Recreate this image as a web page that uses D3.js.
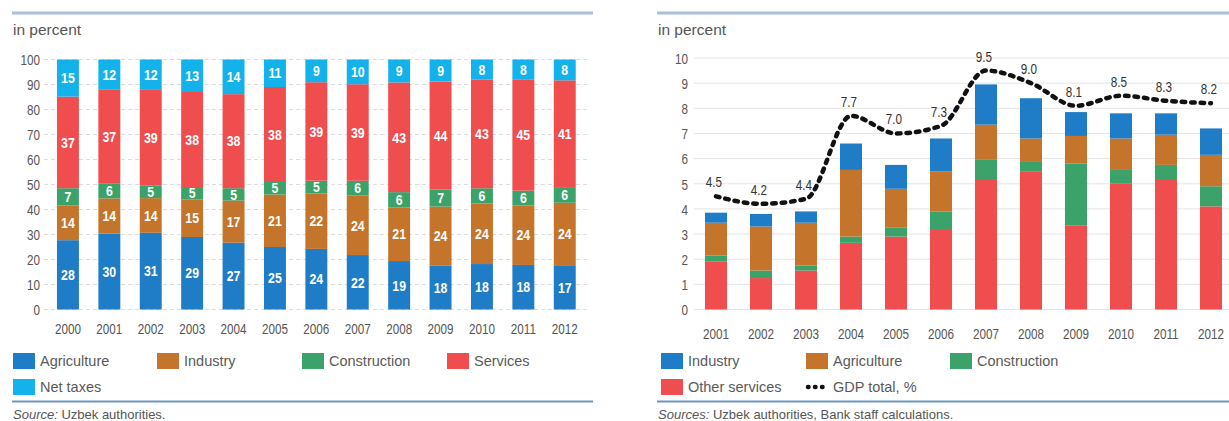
<!DOCTYPE html>
<html><head><meta charset="utf-8">
<script src="https://cdn.jsdelivr.net/npm/d3@7"></script>
<style>
body{margin:0;background:#fff;}
svg{display:block;}
text{font-family:"Liberation Sans",Arial,sans-serif;}
</style></head>
<body>
<svg id="c" width="1229" height="421"></svg>
<script>
// ---------- Left chart data (share of GDP, %) ----------
const yearsL = ["2000","2001","2002","2003","2004","2005","2006","2007","2008","2009","2010","2011","2012"];
const agricultureL = [28,30,31,29,27,25,24,22,19,18,18,18,17];
const industryL    = [14,14,14,15,17,21,22,24,21,24,24,24,24];
const constructionL= [7,6,5,5,5,5,5,6,6,7,6,6,6];
const servicesL    = [37,37,39,38,38,38,39,39,43,44,43,45,41];
const netTaxesL    = [15,12,12,13,14,11,9,10,9,9,8,8,8];
const yTicksL = [0,10,20,30,40,50,60,70,80,90,100];

// ---------- Right chart data (contributions to growth, pp) ----------
const yearsR = ["2001","2002","2003","2004","2005","2006","2007","2008","2009","2010","2011","2012"];
const otherServicesR = [1.9,1.25,1.55,2.65,2.9,3.2,5.15,5.5,3.35,5.0,5.15,4.1];
const constructionR  = [0.25,0.3,0.2,0.25,0.35,0.7,0.8,0.4,2.45,0.55,0.6,0.8];
const agricultureR   = [1.3,1.75,1.7,2.65,1.55,1.6,1.4,0.9,1.1,1.25,1.2,1.25];
const industryR      = [0.4,0.5,0.45,1.05,0.95,1.3,1.6,1.6,0.95,1.0,0.85,1.05];
const gdpTotalR      = [4.5,4.2,4.4,7.7,7.0,7.3,9.5,9.0,8.1,8.5,8.3,8.2];
const yTicksR = [0,1,2,3,4,5,6,7,8,9,10];

const C = {blue:"#1f7cc7", brown:"#c4742b", green:"#3ba36a", red:"#f04d4f", cyan:"#14b2ea"};
const SX = 0.78; // condensed look of the original numerals
const svg = d3.select("#c");

function frame(x0, x1, srcText, srcItalic) {
  svg.append("line").attr("x1",x0).attr("x2",x1).attr("y1",13).attr("y2",13)
    .attr("stroke","#a9c0d8").attr("stroke-width",3);
  svg.append("text").attr("x",x0+1).attr("y",35).attr("font-size",15.5).attr("fill","#555").text("in percent");
  svg.append("line").attr("x1",x0).attr("x2",x1).attr("y1",401.5).attr("y2",401.5)
    .attr("stroke","#6e96bf").attr("stroke-width",2);
  const t = svg.append("text").attr("x",x0+1).attr("y",419).attr("font-size",13).attr("fill","#555");
  t.append("tspan").attr("font-style","italic").text(srcItalic);
  t.append("tspan").text(srcText);
}
function legendItem(x, y, color, label) {
  svg.append("rect").attr("x",x).attr("y",y).attr("width",22).attr("height",16).attr("fill",color);
  svg.append("text").attr("x",x+27).attr("y",y+13).attr("font-size",14.5).attr("fill","#5a5a5a").text(label);
}
function condense(sel) {
  sel.attr("transform", `scale(${SX},1)`);
}

// ================= LEFT =================
{
  frame(12, 593, " Uzbek authorities.", "Source:");
  const x = d3.scaleBand().domain(yearsL).range([46, 586.7]).paddingInner(0.47).paddingOuter(0.265);
  const y = d3.scaleLinear().domain([0,100]).range([309.5, 59.5]);
  const g = svg.append("g");
  g.selectAll(".grid").data(yTicksL).join("line")
    .attr("x1",44).attr("x2",590).attr("y1",d=>y(d)).attr("y2",d=>y(d))
    .attr("stroke","#dcdcdc").attr("stroke-width",1).attr("stroke-dasharray","4 3");
  const yAxis = d3.axisLeft(y).tickValues(yTicksL).tickSize(0).tickPadding(0);
  g.append("g").attr("transform","translate(40,0)").call(yAxis)
    .call(a=>a.select(".domain").remove())
    .selectAll("text").attr("font-size",15).attr("fill","#555").attr("dy","0.35em").call(condense);
  const xAxis = d3.axisBottom(x).tickSize(0).tickPadding(0);
  g.append("g").attr("transform","translate(0,329)").call(xAxis)
    .call(a=>a.select(".domain").remove())
    .selectAll("text").attr("font-size",15).attr("fill","#555").attr("dy","0.35em").call(condense);

  const keys = ["agri","ind","cons","serv","tax"];
  const cols = {agri:C.blue, ind:C.brown, cons:C.green, serv:C.red, tax:C.cyan};
  const rows = yearsL.map((yr,i)=>({year:yr, agri:agricultureL[i], ind:industryL[i], cons:constructionL[i], serv:servicesL[i], tax:netTaxesL[i]}));
  const series = d3.stack().keys(keys).offset(d3.stackOffsetExpand)(rows);
  const sg = g.selectAll(".s").data(series).join("g").attr("fill",d=>cols[d.key]);
  sg.selectAll("rect").data(d=>d).join("rect")
    .attr("x",d=>x(d.data.year)).attr("width",x.bandwidth())
    .attr("y",d=>y(d[1]*100)).attr("height",d=>y(d[0]*100)-y(d[1]*100));
  series.forEach(s=>{
    g.selectAll(null).data(s).join("text")
      .attr("transform",d=>`translate(${x(d.data.year)+x.bandwidth()/2},${y((d[0]+d[1])*50)}) scale(0.85,1)`)
      .attr("dy","0.36em").attr("text-anchor","middle")
      .attr("font-size",14.5).attr("font-weight","bold").attr("fill","#fff")
      .text(d=>d.data[s.key]);
  });
  legendItem(13,353,C.blue,"Agriculture");
  legendItem(157,353,C.brown,"Industry");
  legendItem(302,353,C.green,"Construction");
  legendItem(447,353,C.red,"Services");
  legendItem(13,379,C.cyan,"Net taxes");
}

// ================= RIGHT =================
{
  frame(657, 1229, " Uzbek authorities, Bank staff calculations.", "Sources:");
  const x = d3.scaleBand().domain(yearsR).range([693.5, 1233.5]).paddingInner(0.51).paddingOuter(0.255);
  const y = d3.scaleLinear().domain([0,10]).range([309.5, 58]);
  const g = svg.append("g");
  g.selectAll(".grid").data(yTicksR).join("line")
    .attr("x1",694).attr("x2",1229).attr("y1",d=>y(d)).attr("y2",d=>y(d))
    .attr("stroke","#e4e4e4").attr("stroke-width",1);
  const yAxis = d3.axisLeft(y).tickValues(yTicksR).tickSize(0).tickPadding(0);
  g.append("g").attr("transform","translate(688,0)").call(yAxis)
    .call(a=>a.select(".domain").remove())
    .selectAll("text").attr("font-size",15).attr("fill","#555").attr("dy","0.35em").call(condense);
  const xAxis = d3.axisBottom(x).tickSize(0).tickPadding(0);
  g.append("g").attr("transform","translate(0,334)").call(xAxis)
    .call(a=>a.select(".domain").remove())
    .selectAll("text").attr("font-size",15).attr("fill","#555").attr("dy","0.35em").call(condense);

  const keys = ["serv","cons","agri","ind"];
  const cols = {serv:C.red, cons:C.green, agri:C.brown, ind:C.blue};
  const rows = yearsR.map((yr,i)=>({year:yr, serv:otherServicesR[i], cons:constructionR[i], agri:agricultureR[i], ind:industryR[i]}));
  const series = d3.stack().keys(keys)(rows);
  g.selectAll(".s").data(series).join("g").attr("fill",d=>cols[d.key])
    .selectAll("rect").data(d=>d).join("rect")
    .attr("x",d=>x(d.data.year)).attr("width",x.bandwidth())
    .attr("y",d=>y(d[1])).attr("height",d=>y(d[0])-y(d[1]));

  const pts = yearsR.map((yr,i)=>({year:yr, v:gdpTotalR[i]}));
  const line = d3.line().x(d=>x(d.year)+x.bandwidth()/2).y(d=>y(d.v)).curve(d3.curveMonotoneX);
  g.append("path").datum(pts).attr("d",line).attr("fill","none")
    .attr("stroke","#111").attr("stroke-width",4.5).attr("stroke-linecap","round")
    .attr("stroke-dasharray","3.5 6");
  g.selectAll(".lbl").data(pts).join("text")
    .attr("transform",d=>`translate(${x(d.year)+x.bandwidth()/2-2},${y(d.v)-9}) scale(${SX},1)`)
    .attr("text-anchor","middle").attr("font-size",15).attr("fill","#333")
    .text(d=>d3.format(".1f")(d.v));

  legendItem(661,353,C.blue,"Industry");
  legendItem(806,353,C.brown,"Agriculture");
  legendItem(950,353,C.green,"Construction");
  legendItem(661,379,C.red,"Other services");
  svg.append("line").attr("x1",808).attr("x2",826).attr("y1",387).attr("y2",387)
    .attr("stroke","#111").attr("stroke-width",4.5).attr("stroke-linecap","round").attr("stroke-dasharray","0.5 6.5");
  svg.append("text").attr("x",833).attr("y",392).attr("font-size",14.5).attr("fill","#5a5a5a").text("GDP total, %");
}
</script>
</body></html>
